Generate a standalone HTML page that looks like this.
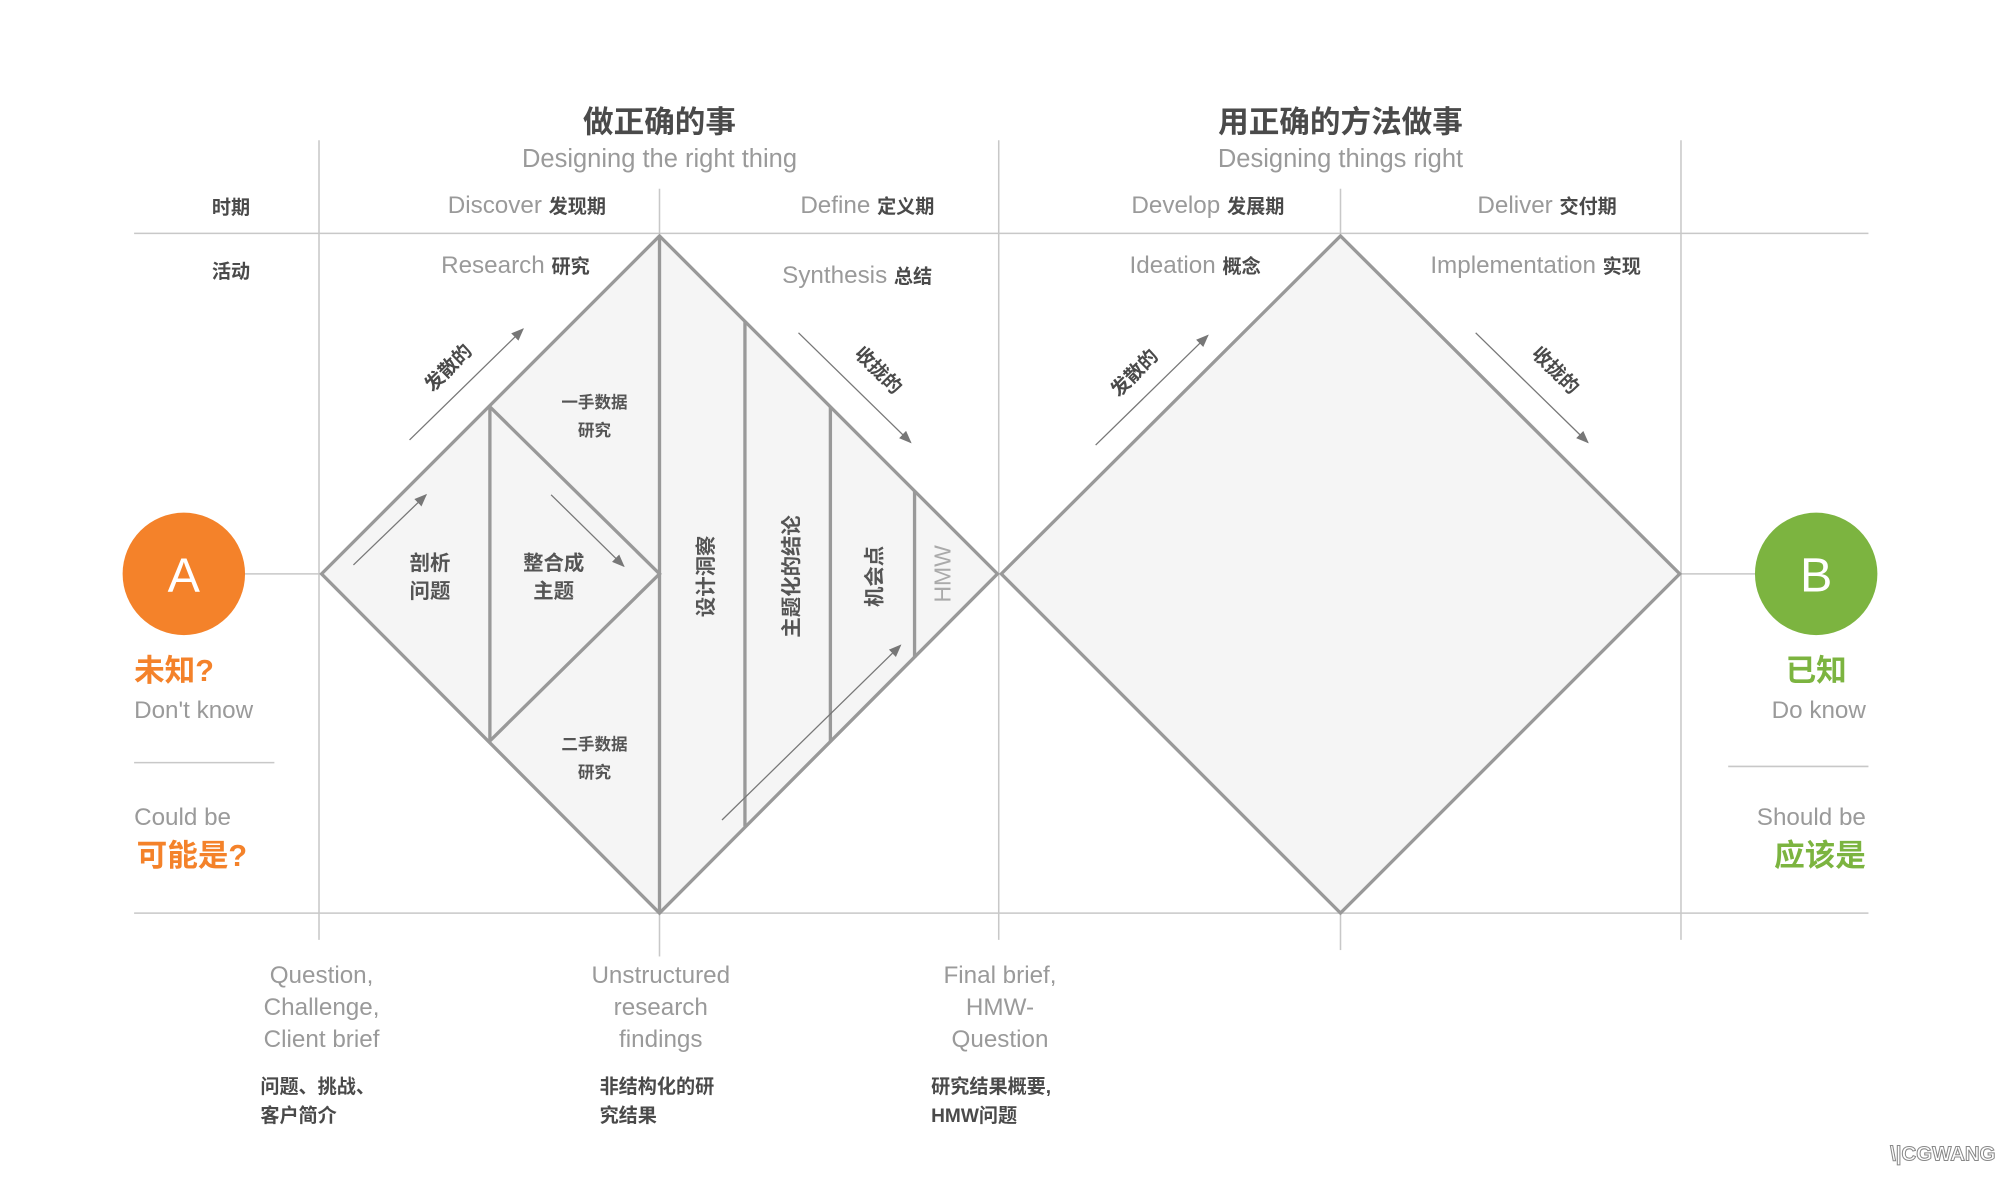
<!DOCTYPE html>
<html><head><meta charset="utf-8"><style>
html,body{margin:0;padding:0;background:#fff;}
svg{display:block;}
text{font-family:"Liberation Sans","Noto Sans CJK SC",sans-serif;}
.g{fill:#9a9a9a;}
.d{fill:#4a4a4a;font-weight:bold;}
.ln{stroke:#c8c8c8;stroke-width:1.2;fill:none;}
.sh{stroke:#999;stroke-width:2.6;fill:none;}
.ar{stroke:#777;stroke-width:1;fill:none;marker-end:url(#ah);}
</style></head><body>
<svg width="2000" height="1186" viewBox="0 0 1568 930" xmlns="http://www.w3.org/2000/svg">
<defs><marker id="ah" markerWidth="10" markerHeight="8" refX="9" refY="4" orient="auto" markerUnits="userSpaceOnUse"><path d="M0,0 L10,4 L0,8 Z" fill="#777"/></marker></defs>
<!-- grid -->
<line class="ln" x1="105" y1="183" x2="1465" y2="183"/>
<line class="ln" x1="105" y1="716" x2="1465" y2="716"/>
<line class="ln" x1="250" y1="110" x2="250" y2="737"/>
<line class="ln" x1="783" y1="110" x2="783" y2="737"/>
<line class="ln" x1="1318" y1="110" x2="1318" y2="737"/>
<line class="ln" x1="517" y1="148" x2="517" y2="183"/>
<line class="ln" x1="517" y1="716" x2="517" y2="750"/>
<line class="ln" x1="1051" y1="148" x2="1051" y2="183"/>
<line class="ln" x1="1051" y1="716" x2="1051" y2="745"/>
<line class="ln" x1="192" y1="450" x2="252" y2="450"/>
<line class="ln" x1="1317" y1="450" x2="1378" y2="450"/>
<line class="ln" x1="105" y1="598" x2="215" y2="598"/>
<line class="ln" x1="1355" y1="601" x2="1465" y2="601"/>
<!-- diamonds -->
<polygon points="252,450 517,185 782,450 517,716" fill="#f5f5f5" class="sh" style="fill:#f5f5f5"/>
<polyline class="sh" points="384,319 517,450 384,581"/>
<line class="sh" x1="384" y1="319" x2="384" y2="581"/>
<line class="sh" x1="517" y1="185" x2="517" y2="716"/>
<line class="sh" x1="584" y1="252" x2="584" y2="648"/>
<line class="sh" x1="651" y1="319" x2="651" y2="582"/>
<line class="sh" x1="717" y1="385" x2="717" y2="516"/>
<polygon points="785,450 1051,185 1317,450 1051,716" class="sh" style="fill:#f5f5f5"/>
<!-- arrows -->
<line class="ar" x1="321" y1="345" x2="410" y2="258"/>
<line class="ar" x1="626" y1="261" x2="714" y2="347"/>
<line class="ar" x1="277" y1="443" x2="334" y2="388"/>
<line class="ar" x1="432" y1="388" x2="489" y2="444"/>
<line class="ar" x1="566" y1="643" x2="706" y2="506"/>
<line class="ar" x1="859" y1="349" x2="947" y2="263"/>
<line class="ar" x1="1157" y1="261" x2="1245" y2="347"/>
<text class="d" font-size="15" text-anchor="middle" transform="translate(355,292) rotate(-45)">发散的</text>
<text class="d" font-size="15" text-anchor="middle" transform="translate(685,294) rotate(45)">收拢的</text>
<text class="d" font-size="15" text-anchor="middle" transform="translate(893,296) rotate(-45)">发散的</text>
<text class="d" font-size="15" text-anchor="middle" transform="translate(1216,294) rotate(45)">收拢的</text>
<!-- circles -->
<circle cx="144" cy="450" r="48" fill="#f4822a"/>
<text x="144" y="464" font-size="38" fill="#fff" text-anchor="middle">A</text>
<circle cx="1424" cy="450" r="48" fill="#7cb440"/>
<text x="1424" y="464" font-size="38" fill="#fff" text-anchor="middle">B</text>
<!-- headers -->
<text x="517" y="104" font-size="24" class="d" text-anchor="middle">做正确的事</text>
<text x="517" y="131" font-size="20" class="g" text-anchor="middle">Designing the right thing</text>
<text x="1051" y="104" font-size="24" class="d" text-anchor="middle">用正确的方法做事</text>
<text x="1051" y="131" font-size="20" class="g" text-anchor="middle">Designing things right</text>
<text x="181" y="168" font-size="15" class="d" text-anchor="middle">时期</text>
<text x="181" y="218" font-size="15" class="d" text-anchor="middle">活动</text>
<text x="413" y="167" text-anchor="middle"><tspan class="g" font-size="19">Discover </tspan><tspan class="d" font-size="15">发现期</tspan></text>
<text x="680" y="167" text-anchor="middle"><tspan class="g" font-size="19">Define </tspan><tspan class="d" font-size="15">定义期</tspan></text>
<text x="947" y="167" text-anchor="middle"><tspan class="g" font-size="19">Develop </tspan><tspan class="d" font-size="15">发展期</tspan></text>
<text x="1213" y="167" text-anchor="middle"><tspan class="g" font-size="19">Deliver </tspan><tspan class="d" font-size="15">交付期</tspan></text>
<text x="404" y="214" text-anchor="middle"><tspan class="g" font-size="19">Research </tspan><tspan class="d" font-size="15">研究</tspan></text>
<text x="672" y="222" text-anchor="middle"><tspan class="g" font-size="19">Synthesis  </tspan><tspan class="d" font-size="15">总结</tspan></text>
<text x="937" y="214" text-anchor="middle"><tspan class="g" font-size="19">Ideation </tspan><tspan class="d" font-size="15">概念</tspan></text>
<text x="1204" y="214" text-anchor="middle"><tspan class="g" font-size="19">Implementation </tspan><tspan class="d" font-size="15">实现</tspan></text>
<!-- inner -->
<text x="466" y="320" font-size="13" class="d" text-anchor="middle" style="fill:#555">一手数据</text>
<text x="466" y="342" font-size="13" class="d" text-anchor="middle" style="fill:#555">研究</text>
<text x="466" y="588" font-size="13" class="d" text-anchor="middle" style="fill:#555">二手数据</text>
<text x="466" y="610" font-size="13" class="d" text-anchor="middle" style="fill:#555">研究</text>
<text x="337" y="447" font-size="16" class="d" text-anchor="middle" style="fill:#555">剖析</text>
<text x="337" y="469" font-size="16" class="d" text-anchor="middle" style="fill:#555">问题</text>
<text x="434" y="447" font-size="16" class="d" text-anchor="middle" style="fill:#555">整合成</text>
<text x="434" y="469" font-size="16" class="d" text-anchor="middle" style="fill:#555">主题</text>
<text class="d" font-size="16" text-anchor="middle" style="fill:#555" transform="translate(559,452) rotate(-90)">设计洞察</text>
<text class="d" font-size="16" text-anchor="middle" style="fill:#555" transform="translate(626,452) rotate(-90)">主题化的结论</text>
<text class="d" font-size="16" text-anchor="middle" style="fill:#555" transform="translate(691,452) rotate(-90)">机会点</text>
<text class="g" font-size="18" text-anchor="middle" style="fill:#aaa" transform="translate(745,450) rotate(-90)">HMW</text>
<!-- sides -->
<text x="105" y="534" font-size="24" font-weight="bold" fill="#f4822a">未知?</text>
<text x="105" y="563" font-size="19" class="g">Don't know</text>
<text x="105" y="647" font-size="19" class="g">Could be</text>
<text x="107" y="679" font-size="24" font-weight="bold" fill="#f4822a">可能是?</text>
<text x="1424" y="534" font-size="24" font-weight="bold" fill="#7cb440" text-anchor="middle">已知</text>
<text x="1463" y="563" font-size="19" class="g" text-anchor="end">Do know</text>
<text x="1463" y="647" font-size="19" class="g" text-anchor="end">Should be</text>
<text x="1463" y="679" font-size="24" font-weight="bold" fill="#7cb440" text-anchor="end">应该是</text>
<!-- bottom -->
<g class="g" font-size="19" text-anchor="middle">
<text x="252" y="771">Question,</text><text x="252" y="796">Challenge,</text><text x="252" y="821">Client brief</text>
<text x="518" y="771">Unstructured</text><text x="518" y="796">research</text><text x="518" y="821">findings</text>
<text x="784" y="771">Final brief,</text><text x="784" y="796">HMW-</text><text x="784" y="821">Question</text>
</g>
<g class="d" font-size="15">
<text x="204" y="857">问题、挑战、</text><text x="204" y="880">客户简介</text>
<text x="470" y="857">非结构化的研</text><text x="470" y="880">究结果</text>
<text x="730" y="857">研究结果概要,</text><text x="730" y="880">HMW问题</text>
</g>
<text x="1482" y="910" font-size="16" font-weight="bold" fill="#fff" stroke="#888" stroke-width="0.8">\|CGWANG</text>
</svg>
</body></html>
